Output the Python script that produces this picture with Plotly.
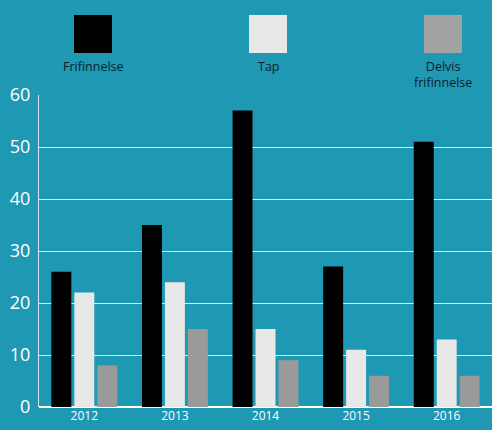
import plotly.graph_objects as go

years = ["2012", "2013", "2014", "2015", "2016"]
series_names = ["Frifinnelse", "Tap", "Delvis frifinnelse"]
legend_labels = ["Frifinnelse", "Tap", "Delvis<br>frifinnelse"]
frifinnelse = [26, 35, 57, 27, 51]
tap = [22, 24, 15, 11, 13]
delvis = [8, 15, 9, 6, 6]
values = [frifinnelse, tap, delvis]
bar_colors = ["#000000", "#e8e8e8", "#9a9a9a"]
legend_colors = ["#000000", "#e8e8e8", "#a3a3a3"]
bg = "#1f98b3"

fig = go.Figure()
for name, vals, col in zip(series_names, values, bar_colors):
    fig.add_trace(go.Bar(x=years, y=vals, name=name, marker=dict(color=col, line=dict(width=0))))

PW, PH, B = 453, 312, 23
def py(pix):
    return (430 - B - pix) / PH

centers = [(93 - 39) / PW, (268 - 39) / PW, (443 - 39) / PW]
for lab, col, cx in zip(legend_labels, legend_colors, centers):
    fig.add_shape(type="rect", xref="paper", yref="paper",
                  x0=cx - 19 / PW, x1=cx + 19 / PW,
                  y0=py(53), y1=py(15),
                  fillcolor=col, line=dict(width=0), layer="above")
    fig.add_annotation(xref="paper", yref="paper", x=cx, y=py(57),
                       text=lab, showarrow=False, yanchor="top", xanchor="center",
                       font=dict(family="Open Sans", size=12.5, color="#08222c"),
                       borderpad=0, align="center")

fig.update_layout(
    width=492, height=430,
    margin=dict(l=39, r=0, t=95, b=23),
    paper_bgcolor=bg, plot_bgcolor=bg,
    barmode="group", bargap=0.24, bargroupgap=0.13,
    showlegend=False,
    font=dict(family="Open Sans", color="white"),
    xaxis=dict(type="category", range=[-0.5, 4.5], showgrid=False,
               tickfont=dict(size=12, color="white"), ticks="", showline=False,
               zeroline=False),
    yaxis=dict(range=[0, 60], dtick=10, showgrid=True, gridcolor="#d6edf2", gridwidth=1,
               tickfont=dict(size=18, color="white"), showline=True, linecolor="#cfe9ef",
               linewidth=1, zeroline=True, zerolinecolor="white", zerolinewidth=1.5,
               ticks="", ticklabelstandoff=4),
)

fig.write_html("out.html")
